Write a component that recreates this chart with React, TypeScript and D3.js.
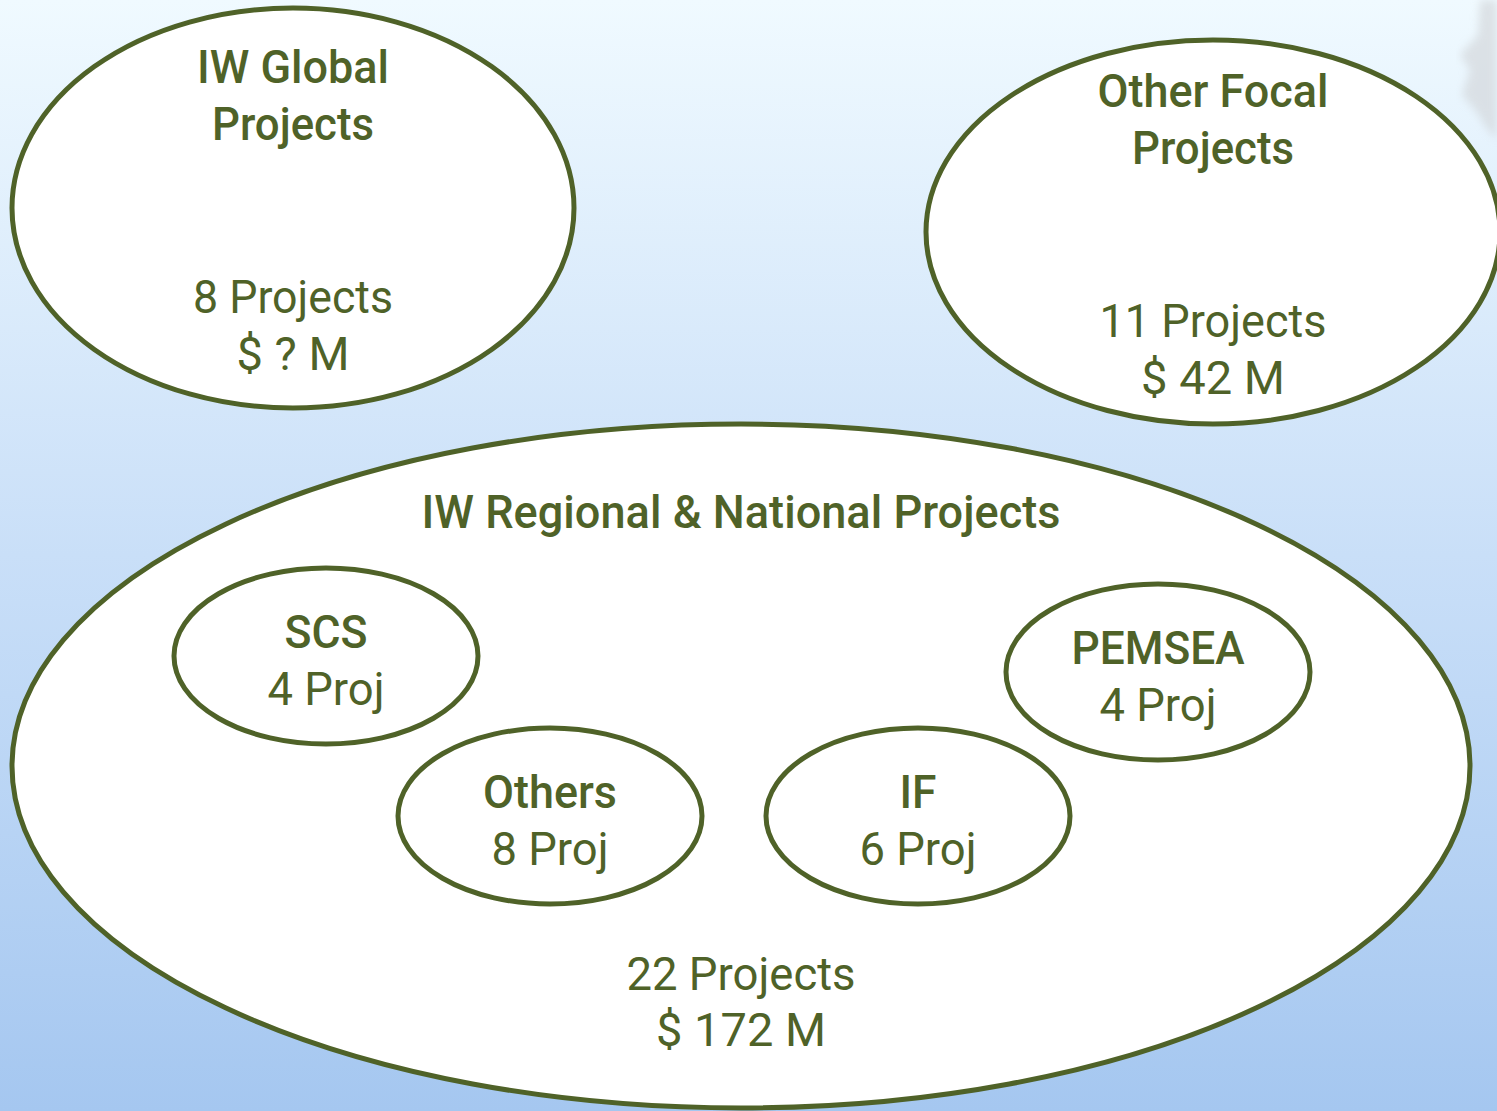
import React, { useEffect, useRef } from 'react';
import * as d3 from 'd3';

// Outer groups
const groupTitles = [['IW Global', 'Projects'], ['Other Focal', 'Projects'], ['IW Regional & National Projects']];
const groupCounts = ['8 Projects', '11 Projects', '22 Projects'];
const groupFunds = ['$ ? M', '$ 42 M', '$ 172 M'];

// Sub-groups inside the regional ellipse
const subNames = ['SCS', 'Others', 'IF', 'PEMSEA'];
const subCounts = ['4 Proj', '8 Proj', '6 Proj', '4 Proj'];

const W = 1497;
const H = 1111;
const GREEN = '#4f6228';
const FONT = 'Roboto, "Liberation Sans", Arial, sans-serif';

// ellipse geometry + text anchors/widths (layout only)
const groupLayout = [
  { cx: 293, cy: 208, rx: 281, ry: 200, titleY: [83, 140], titleW: [192, 162], countY: 313, countW: 200, fundY: 370, fundW: 113 },
  { cx: 1213, cy: 232, rx: 287, ry: 192, titleY: [107, 164], titleW: [231, 162], countY: 337, countW: 227, fundY: 394, fundW: 144 },
  { cx: 741, cy: 766, rx: 729, ry: 342, titleY: [528], titleW: [639], countY: 990, countW: 229, fundY: 1046, fundW: 170 },
];
const subLayout = [
  { cx: 326, cy: 656, nameY: 648, nameW: 83 },
  { cx: 550, cy: 816, nameY: 808, nameW: 134 },
  { cx: 918, cy: 816, nameY: 808, nameW: 37 },
  { cx: 1158, cy: 672, nameY: 664, nameW: 173 },
];
const subRx = 152;
const subRy = 88;
const subCountW = 117;

const App: React.FC = () => {
  const svgRef = useRef<SVGSVGElement>(null);

  useEffect(() => {
    if (!svgRef.current) return;
    const svg = d3.select(svgRef.current);
    svg.selectAll('*').remove();

    const defs = svg.append('defs');
    const grad = defs.append('linearGradient')
      .attr('id', 'bg').attr('x1', 0).attr('y1', 0).attr('x2', 0).attr('y2', 1);
    grad.append('stop').attr('offset', '0%').attr('stop-color', '#f0faff');
    grad.append('stop').attr('offset', '50%').attr('stop-color', '#c9dff8');
    grad.append('stop').attr('offset', '100%').attr('stop-color', '#a5c7f0');

    const blur = defs.append('filter').attr('id', 'soft');
    blur.append('feGaussianBlur').attr('stdDeviation', 4);

    svg.append('rect').attr('width', W).attr('height', H).attr('fill', 'url(#bg)');

    // faint map fragment in the top-right corner
    svg.append('path')
      .attr('d', 'M1480,0 L1497,0 L1497,140 L1488,130 L1475,110 L1462,95 L1470,70 L1460,55 L1478,35 Z')
      .attr('fill', '#d4d8dc').attr('opacity', 0.7).attr('filter', 'url(#soft)');

    const addText = (x: number, y: number, t: string, w: number, weight: number) => {
      svg.append('text')
        .attr('x', x).attr('y', y)
        .attr('text-anchor', 'middle')
        .attr('fill', GREEN)
        .attr('font-family', FONT)
        .attr('font-size', 46)
        .attr('font-weight', weight)
        .attr('textLength', w)
        .attr('lengthAdjust', 'spacingAndGlyphs')
        .text(t);
    };

    groupLayout.forEach((g, i) => {
      svg.append('ellipse')
        .attr('cx', g.cx).attr('cy', g.cy).attr('rx', g.rx).attr('ry', g.ry)
        .attr('fill', '#ffffff').attr('stroke', GREEN).attr('stroke-width', 5);
      groupTitles[i].forEach((line, j) => addText(g.cx, g.titleY[j], line, g.titleW[j], 500));
      addText(g.cx, g.countY, groupCounts[i], g.countW, 400);
      addText(g.cx, g.fundY, groupFunds[i], g.fundW, 400);
    });

    subLayout.forEach((s, i) => {
      svg.append('ellipse')
        .attr('cx', s.cx).attr('cy', s.cy).attr('rx', subRx).attr('ry', subRy)
        .attr('fill', '#ffffff').attr('stroke', GREEN).attr('stroke-width', 5);
      addText(s.cx, s.nameY, subNames[i], s.nameW, 500);
      addText(s.cx, s.nameY + 57, subCounts[i], subCountW, 400);
    });
  }, []);

  return (
    <svg
      ref={svgRef}
      width={W}
      height={H}
      style={{ position: 'absolute', left: 0, top: 0, display: 'block' }}
    />
  );
};

export default App;
